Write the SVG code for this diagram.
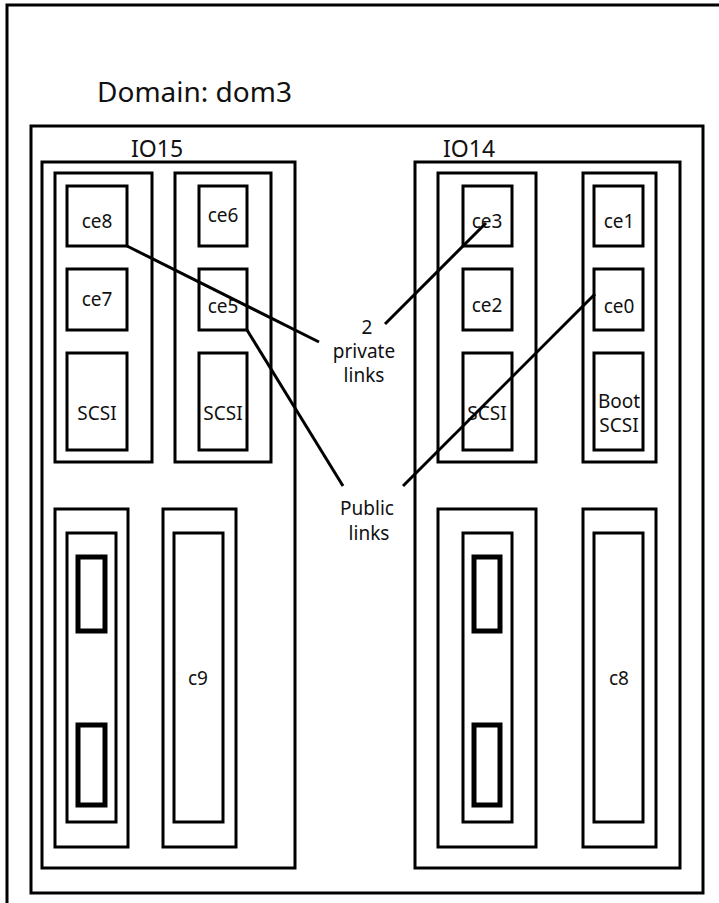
<svg xmlns="http://www.w3.org/2000/svg" width="719" height="903" viewBox="0 0 719 903">
<style>
rect{fill:none;stroke:#000;stroke-width:3}
.thick{stroke-width:5}
text{font-family:"Noto Sans","Open Sans","DejaVu Sans",sans-serif;fill:#111;text-anchor:middle}
.lbl{font-size:19px}
.conn line{stroke:#000;stroke-width:3}
</style>
<rect width="719" height="903" fill="#fff" stroke="none" style="fill:#fff;stroke:none"/>
<g id="outer"><rect x="7" y="5" width="740" height="930"/></g>
<text x="97" y="102" style="font-size:28px;text-anchor:start">Domain: dom3</text>
<g id="domain"><rect x="31" y="126" width="672" height="767"/></g>
<g id="IO15">
<rect x="42" y="162" width="253" height="706"/>
<text x="131" y="157" style="font-size:23px;text-anchor:start">IO15</text>
</g>
<g id="IO14">
<rect x="415" y="162" width="265" height="706"/>
<text x="443" y="157" style="font-size:23px;text-anchor:start">IO14</text>
</g>
<g id="io15-card1"><rect x="55" y="173" width="97" height="289"/></g>
<g id="io15-card2"><rect x="175" y="173" width="96" height="289"/></g>
<g id="ce8"><rect x="67" y="186" width="60" height="60"/><text class="lbl" x="97" y="228">ce8</text></g>
<g id="ce6"><rect x="199" y="186" width="48" height="60"/><text class="lbl" x="223" y="222">ce6</text></g>
<g id="ce7"><rect x="67" y="269" width="60" height="61"/><text class="lbl" x="97" y="306">ce7</text></g>
<g id="ce5"><rect x="199" y="269" width="48" height="61"/><text class="lbl" x="223" y="313">ce5</text></g>
<g id="io15-scsi1"><rect x="67" y="353" width="60" height="97"/><text class="lbl" x="97" y="420">SCSI</text></g>
<g id="io15-scsi2"><rect x="199" y="353" width="48" height="97"/><text class="lbl" x="223" y="420">SCSI</text></g>
<g id="io15-card3">
<rect x="55" y="509" width="73" height="338"/>
<rect x="67" y="533" width="49" height="289"/>
<rect class="thick" x="78" y="557" width="27" height="74"/>
<rect class="thick" x="78" y="725" width="27" height="80"/>
</g>
<g id="c9"><rect x="163" y="509" width="73" height="338"/><rect x="174" y="533" width="49" height="289"/><text class="lbl" x="198" y="685">c9</text></g>
<g id="io14-card1"><rect x="438" y="173" width="98" height="289"/></g>
<g id="io14-card2"><rect x="583" y="173" width="73" height="289"/></g>
<g id="ce3"><rect x="463" y="186" width="49" height="60"/><text class="lbl" x="487" y="228">ce3</text></g>
<g id="ce1"><rect x="594" y="186" width="49" height="60"/><text class="lbl" x="619" y="228">ce1</text></g>
<g id="ce2"><rect x="463" y="269" width="49" height="61"/><text class="lbl" x="487" y="312">ce2</text></g>
<g id="ce0"><rect x="594" y="269" width="49" height="61"/><text class="lbl" x="619" y="313">ce0</text></g>
<g id="io14-scsi"><rect x="463" y="353" width="49" height="97"/><text class="lbl" x="487" y="420">SCSI</text></g>
<g id="boot-scsi"><rect x="594" y="353" width="49" height="97"/><text class="lbl" x="619" y="408">Boot</text><text class="lbl" x="619" y="432">SCSI</text></g>
<g id="io14-card3">
<rect x="438" y="509" width="98" height="338"/>
<rect x="463" y="533" width="49" height="289"/>
<rect class="thick" x="474" y="557" width="26" height="74"/>
<rect class="thick" x="474" y="725" width="26" height="80"/>
</g>
<g id="c8"><rect x="583" y="509" width="73" height="338"/><rect x="594" y="533" width="49" height="289"/><text class="lbl" x="619" y="685">c8</text></g>
<g id="private-label"><text class="lbl" x="367" y="334">2</text><text class="lbl" x="364" y="358">private</text><text class="lbl" x="364" y="382">links</text></g>
<g id="public-label"><text class="lbl" x="367" y="515">Public</text><text class="lbl" x="369" y="540">links</text></g>
<g id="connectors" class="conn">
<line x1="127" y1="246" x2="319" y2="342"/>
<line x1="486" y1="223" x2="385" y2="324"/>
<line x1="247" y1="330" x2="343" y2="486"/>
<line x1="595" y1="294" x2="403" y2="486"/>
</g>
</svg>
